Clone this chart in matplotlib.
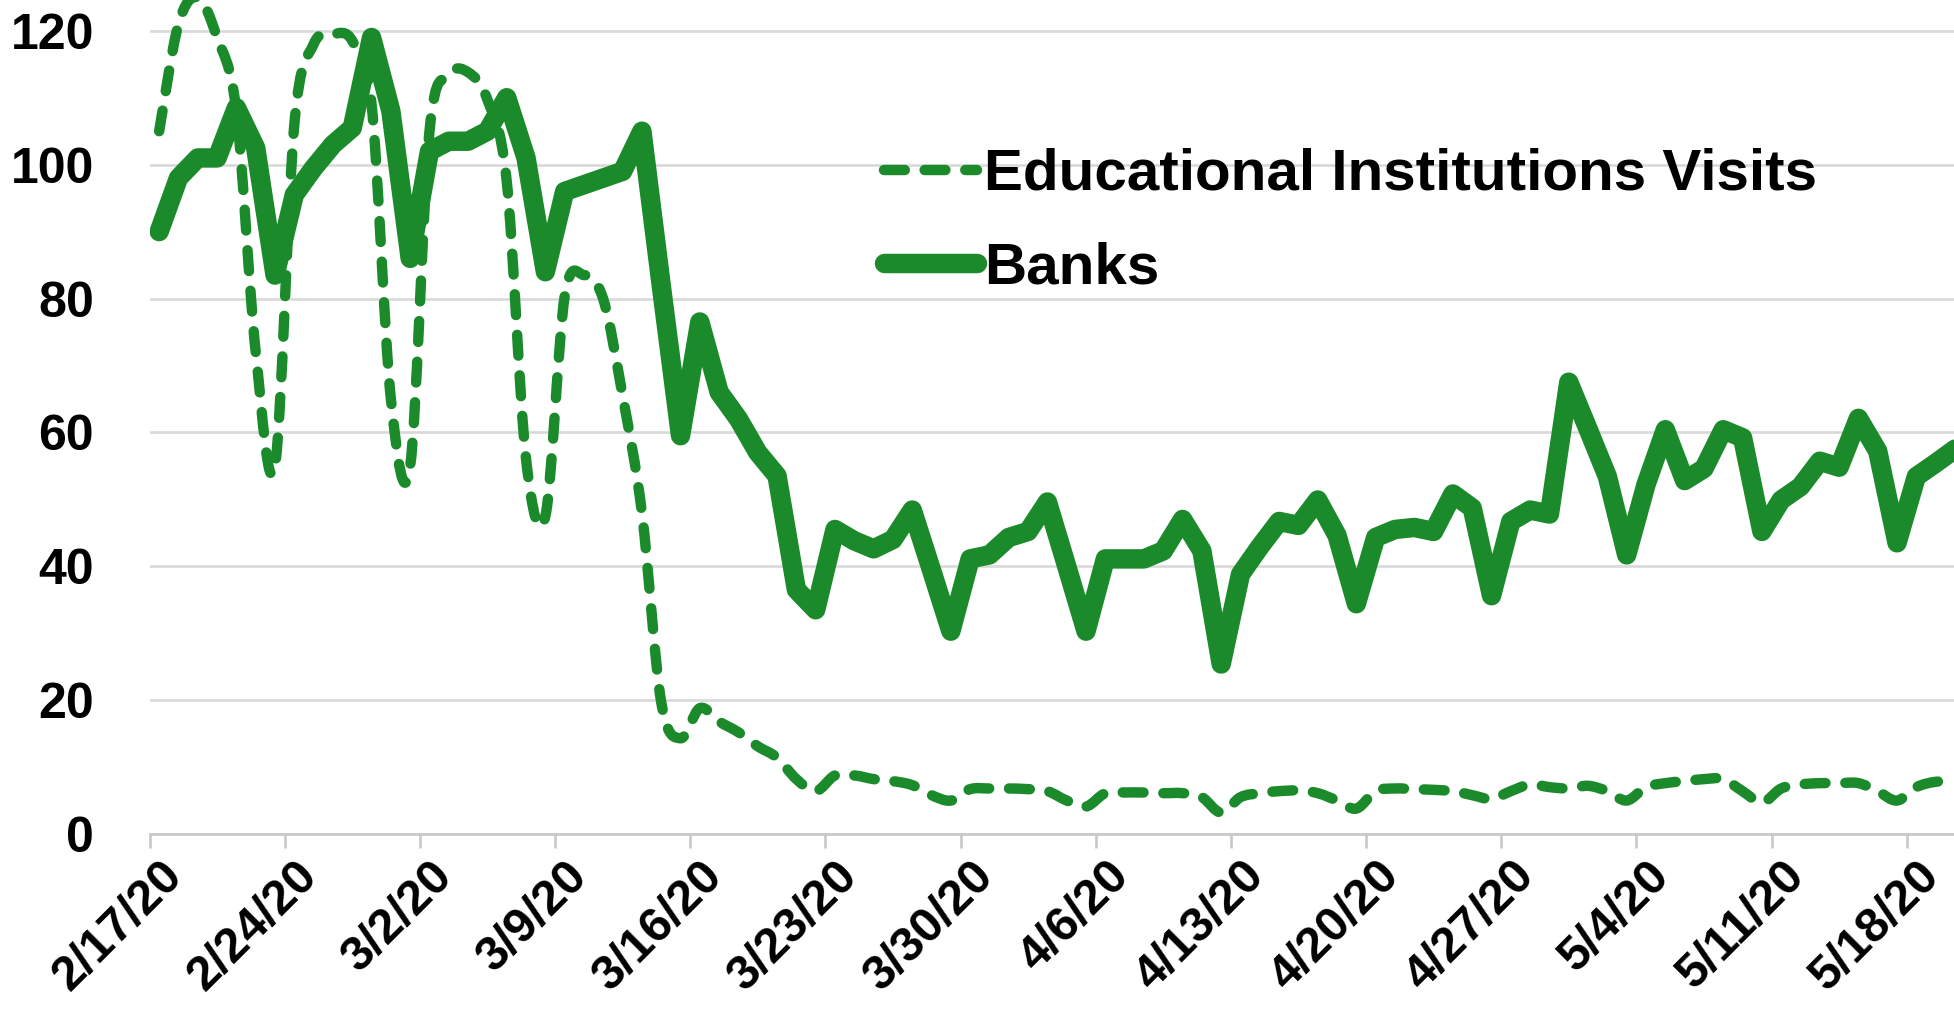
import numpy as np
import pandas as pd
import matplotlib
matplotlib.use("Agg")
import matplotlib.pyplot as plt
import matplotlib.dates as mdates
from matplotlib.path import Path
from matplotlib.patches import PathPatch
from matplotlib.lines import Line2D
from matplotlib.transforms import ScaledTranslation

# ---------------- data ----------------
start_date = "2020-02-17"
banks = [90, 98, 101, 101, 108.5, 102.5, 83.5, 95.5, 99.5, 103, 105.5, 119, 108, 86,
         102, 103.5, 103.5, 105, 110, 101, 84, 96, 97, 98, 99, 105, 82, 59.5,
         76.5, 66, 62, 57, 53.5, 36.5, 33.5, 45.5, 43.8, 42.6, 44, 48.4, 39.4, 30.3,
         41.1, 41.7, 44.3, 45.2, 49.6, 40, 30.3, 41.1, 41.1, 41.1, 42.3, 47, 42.3, 25.4,
         38.8, 42.9, 46.7, 46.1, 49.9, 44.6, 34.4, 44.3, 45.5, 45.8, 45.2, 50.8, 48.7, 35.6,
         46.7, 48.4, 47.8, 67.5, 60.5, 53.4, 41.7, 52.2, 60.4, 52.8, 54.6, 60.4, 59.2, 45.2,
         49.9, 51.9, 55.7, 54.8, 62.1, 57.2, 43.5, 53.4, 55.4, 57.5]
education = [105, 121, 125, 119, 108, 72, 55, 106, 118, 119.5, 118.5, 109, 65, 55,
             105, 113.4, 113.8, 109.7, 97.5, 56, 47.5, 80.3, 83.5, 79.9, 65.5, 48, 19.7, 14.3,
             18.8, 16.8, 15.2, 13.1, 11.4, 8.2, 6.4, 8.75, 8.75, 8.2, 7.9, 7.3, 5.8, 5.0,
             6.7, 6.8, 6.8, 6.7, 6.4, 5.0, 4.1, 6.1, 6.2, 6.2, 6.1, 6.1, 5.5, 3.2,
             5.5, 6.1, 6.4, 6.5, 6.1, 5.0, 3.8, 6.4, 6.8, 6.7, 6.6, 6.4, 5.8, 5.25,
             6.4, 7.4, 7.0, 6.8, 7.2, 6.4, 5.0, 7.0, 7.6, 7.9, 8.2, 8.2, 6.4, 4.7,
             6.8, 7.4, 7.6, 7.6, 7.6, 6.4, 5.0, 7.0, 7.8, 7.8]
tick_labels = ["2/17/20", "2/24/20", "3/2/20", "3/9/20", "3/16/20", "3/23/20", "3/30/20",
               "4/6/20", "4/13/20", "4/20/20", "4/27/20", "5/4/20", "5/11/20", "5/18/20"]
y_ticks = [0, 20, 40, 60, 80, 100, 120]
series_names = ["Educational Institutions Visits", "Banks"]

# ---------------- style ----------------
GREEN = "#1b8a2b"
FONT = ["Liberation Sans", "DejaVu Sans"]
plt.rcParams["font.family"] = FONT
plt.rcParams["font.weight"] = "bold"

dates = pd.date_range(start_date, periods=len(banks), freq="D")
x0 = mdates.date2num(pd.Timestamp(start_date))
xs = mdates.date2num(dates) + 0.5          # points sit between day ticks
tick_pos = mdates.date2num(pd.date_range(start_date, periods=len(tick_labels), freq="7D"))

W, H = 1954, 1016
fig = plt.figure(figsize=(W / 100, H / 100), dpi=100)
ax_left, ax_bottom = 149.5 / W, 182 / H
ax = fig.add_axes([ax_left, ax_bottom, 1 - ax_left, 1 - ax_bottom])
ax.set_xlim(x0, x0 + 93.45)
ax.set_ylim(0, 124.6)

# gridlines
ax.set_yticks(y_ticks)
ax.yaxis.grid(True, color="#d9d9d9", linewidth=1.9)
ax.set_axisbelow(True)
for s in ["top", "right", "left"]:
    ax.spines[s].set_visible(False)
ax.spines["bottom"].set_color("#c8c8c8")
ax.spines["bottom"].set_linewidth(1.9)

# smoothed dashed series (Bezier path through data points)
def smooth_path(x, y):
    n = len(x)
    verts = [(x[0], y[0])]
    codes = [Path.MOVETO]
    for i in range(n - 1):
        xp, yp = (x[i - 1], y[i - 1]) if i > 0 else (x[i], y[i])
        xn, yn = (x[i + 2], y[i + 2]) if i + 2 < n else (x[i + 1], y[i + 1])
        c1 = (x[i] + (x[i + 1] - xp) / 6, y[i] + (y[i + 1] - yp) / 6)
        c2 = (x[i + 1] - (xn - x[i]) / 6, y[i + 1] - (yn - y[i]) / 6)
        verts += [c1, c2, (x[i + 1], y[i + 1])]
        codes += [Path.CURVE4] * 3
    return Path(verts, codes)

DASH_LW = 7.5
BANK_LW = 14
dash_style = (0, (2.0, 1.9))
edu_patch = PathPatch(smooth_path(xs, education), fill=False, edgecolor=GREEN,
                      linewidth=DASH_LW, linestyle=dash_style, capstyle="round",
                      joinstyle="round", zorder=3)
ax.add_patch(edu_patch)

ax.plot(xs, banks, color=GREEN, linewidth=BANK_LW, solid_capstyle="round",
        solid_joinstyle="round", zorder=4)

# ticks
ax.set_xticks(tick_pos)
ax.set_xticklabels(tick_labels)
ax.tick_params(axis="x", length=10, width=1.9, color="#c8c8c8", direction="out",
               pad=15, labelsize=35, labelcolor="black")
ax.tick_params(axis="y", length=0, pad=40, labelsize=36, labelcolor="black")
for lab in ax.get_yticklabels():
    lab.set_fontweight("bold")
offset = ScaledTranslation(0.26, 0, fig.dpi_scale_trans)
for lab in ax.get_xticklabels():
    lab.set_rotation(45)
    lab.set_ha("right")
    lab.set_va("center")
    lab.set_rotation_mode("anchor")
    lab.set_fontweight("bold")
    lab.set_transform(lab.get_transform() + offset)

# legend
handles = [Line2D([], [], color=GREEN, linewidth=DASH_LW, linestyle=dash_style,
                  dash_capstyle="round"),
           Line2D([], [], color=GREEN, linewidth=BANK_LW, solid_capstyle="round")]
leg = fig.legend(handles, series_names, loc="upper left",
                 bbox_to_anchor=(884 / W, 1 - 148 / H), frameon=False,
                 prop={"family": FONT, "weight": "bold", "size": 42},
                 handlelength=1.6, handletextpad=0.12, labelspacing=0.68,
                 borderpad=0, borderaxespad=0)

fig.savefig("out.png", dpi=100)
